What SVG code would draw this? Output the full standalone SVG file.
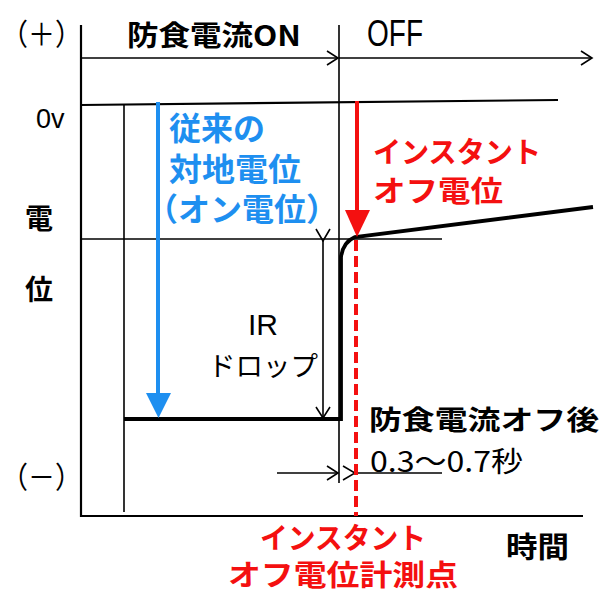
<svg xmlns="http://www.w3.org/2000/svg" width="599" height="595" viewBox="0 0 599 595">
<style>
text{font-family:"Noto Sans CJK JP","Noto Sans",sans-serif;fill:#000}
.b{font-weight:bold}
.blue{fill:#1e8ff0;font-weight:bold}
.red{fill:#f41010;font-weight:bold}
.thin{stroke:#000;stroke-width:1.6;fill:none}
.ax{stroke:#000;stroke-width:2.2;fill:none}
.lat{font-family:"Liberation Sans",Arial,sans-serif}
</style>
<defs>
<marker id="chev" markerWidth="14" markerHeight="18" refX="12" refY="8" orient="auto" markerUnits="userSpaceOnUse">
<path d="M1,1 L12,8 L1,15" fill="none" stroke="#000" stroke-width="1.6"/>
</marker>
<marker id="chevs" markerWidth="16" markerHeight="18" refX="1" refY="8" orient="auto-start-reverse" markerUnits="userSpaceOnUse">
<path d="M13,1 L1,8 L13,15" fill="none" stroke="#000" stroke-width="1.6"/>
</marker>
</defs>
<g id="connectors">
<path class="ax" d="M81,25 V516 H583"/>
<path class="thin" d="M81,58 H338" marker-end="url(#chev)"/>
<path class="thin" d="M339,58 H592" marker-end="url(#chev)"/>
<path class="thin" d="M339,25 V483"/>
<path class="thin" d="M124,105 V512"/>
<path class="ax" d="M81,105 L558,100"/>
<path class="thin" d="M81,239 H442"/>
<path d="M124,419 H341 V257 Q343,242 355,237 L593,207" fill="none" stroke="#000" stroke-width="3.8" stroke-linejoin="miter"/>
<path class="thin" d="M323,241 V418" marker-start="url(#chevs)" marker-end="url(#chev)"/>
<path class="thin" d="M277,473 H338" marker-end="url(#chev)"/>
<path class="thin" d="M355,473 H442" marker-start="url(#chevs)"/>
<path d="M158,102 V395" stroke="#1e8ff0" stroke-width="4" fill="none"/>
<path d="M146,393 L171,393 L158.5,418 Z" fill="#1e8ff0"/>
<path d="M357,101 V212" stroke="#f41010" stroke-width="4" fill="none"/>
<path d="M345,210 L370,210 L357,237 Z" fill="#f41010"/>
<path d="M356,240 V516" stroke="#f41010" stroke-width="4" stroke-dasharray="11,5" fill="none"/>
</g>
<g id="label-plus"><text x="1" y="45" font-size="30" textLength="81" lengthAdjust="spacingAndGlyphs">（＋）</text></g>
<g id="label-on"><text class="b" x="127" y="46" font-size="28" textLength="174" lengthAdjust="spacingAndGlyphs">防食電流ON</text></g>
<g id="label-off"><text class="lat" x="367" y="46" font-size="36" textLength="56" lengthAdjust="spacingAndGlyphs">OFF</text></g>
<g id="label-0v"><text class="lat" x="36" y="128" font-size="27">0v</text></g>
<g id="label-axis-y">
<text class="b" x="25" y="229" font-size="28">電</text>
<text class="b" x="25" y="300" font-size="28">位</text>
</g>
<g id="label-minus"><text x="1" y="488" font-size="30" textLength="81" lengthAdjust="spacingAndGlyphs">（－）</text></g>
<g id="label-on-potential">
<text class="blue" font-size="32"><tspan x="169" y="140">従来の</tspan><tspan x="169" y="181" textLength="132" lengthAdjust="spacingAndGlyphs">対地電位</tspan><tspan x="146" y="221" textLength="192" lengthAdjust="spacingAndGlyphs">（オン電位）</tspan></text>
</g>
<g id="label-instant-off">
<text class="red" font-size="29"><tspan x="373" y="163" textLength="168" lengthAdjust="spacingAndGlyphs">インスタント</tspan><tspan x="373" y="202" textLength="130" lengthAdjust="spacingAndGlyphs">オフ電位</tspan></text>
</g>
<g id="label-ir">
<text class="lat" x="248" y="335" font-size="30">IR</text>
<text x="208" y="376" font-size="27" textLength="110" lengthAdjust="spacingAndGlyphs">ドロップ</text>
</g>
<g id="label-after">
<text class="b" x="369" y="430" font-size="27" textLength="230" lengthAdjust="spacingAndGlyphs">防食電流オフ後</text>
<text x="370" y="472" font-size="28" textLength="153" lengthAdjust="spacingAndGlyphs">0.3～0.7秒</text>
</g>
<g id="label-measure">
<text class="red" text-anchor="middle" font-size="29"><tspan x="343" y="549" textLength="166" lengthAdjust="spacingAndGlyphs">インスタント</tspan><tspan x="343" y="586" textLength="230" lengthAdjust="spacingAndGlyphs">オフ電位計測点</tspan></text>
</g>
<g id="label-time"><text class="b" x="506" y="558" font-size="29" textLength="63" lengthAdjust="spacingAndGlyphs">時間</text></g>
</svg>
